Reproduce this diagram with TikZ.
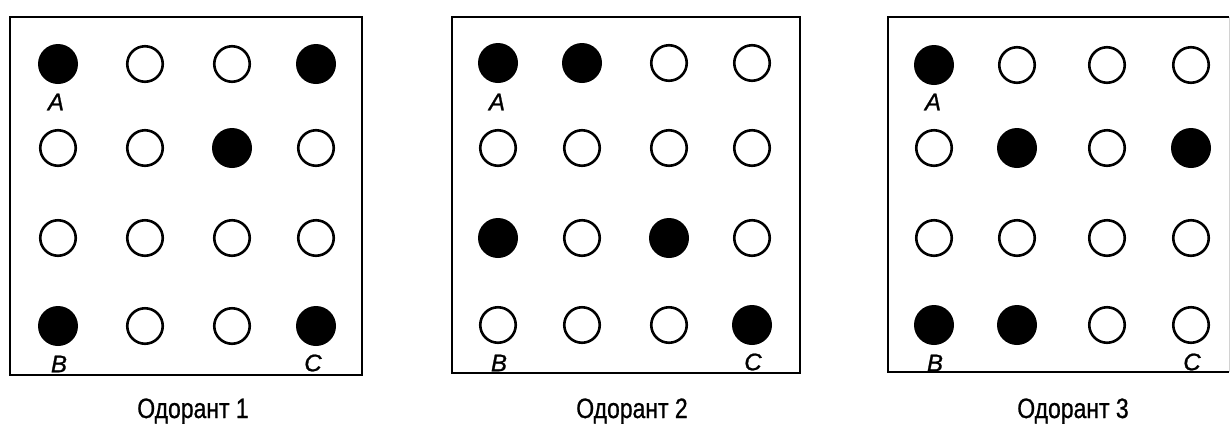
\documentclass[tikz,border=0pt]{standalone}
\usepackage{fontspec}
\setmainfont{Liberation Sans}
\newfontfamily\capfont[FakeStretch=0.82,FakeBold=0.8]{Liberation Sans}
\newfontfamily\labfont[FakeBold=1]{Liberation Sans}
\begin{document}
\begin{tikzpicture}[x=1pt,y=-1pt,
  doto/.style={circle,draw=black,line width=2.6pt,minimum size=35.5pt,inner sep=0pt},
  dotf/.style={circle,fill=black,minimum size=40pt,inner sep=0pt},
  frame/.style={line width=2.8pt,line join=miter},
  lab/.style={font=\labfont\fontsize{24}{24}\selectfont\itshape,inner sep=0pt},
  captxt/.style={font=\capfont\fontsize{28}{28}\selectfont,inner sep=0pt,anchor=base}]
\useasboundingbox (0,0) rectangle (1232,424);
\fill[white] (0,0) rectangle (1232,424);
\newcommand\drawpanel[3]{%
  \foreach \r/\y/\row in {#3} {
    \foreach \s [count=\c] in \row {
      \pgfmathsetmacro\xx{{#2}[\c-1]}
      \node[dot\s] (#1r\r c\c) at (\xx,\y) {};
    }
  }%
}
% frames
\draw[frame] (10,17) rectangle (362,375);
\draw[frame] (452,17) rectangle (800,373);
\draw[frame] (1229,17) -- (888,17) -- (888,372) -- (1229,372);
\draw[gray!35,line width=0.8pt] (1229,17) -- (1229,372);
% panel 1
\drawpanel{a}{58,145,232,316}{1/64/{f,o,o,f},2/148/{o,o,f,o},3/238/{o,o,o,o},4/326/{f,o,o,f}}
% panel 2
\drawpanel{b}{498,582,669,752}{1/63/{f,f,o,o},2/148/{o,o,o,o},3/238/{f,o,f,o},4/325/{o,o,o,f}}
% panel 3
\drawpanel{c}{934,1017,1107,1191}{1/65/{f,o,o,o},2/148/{o,f,o,f},3/238/{o,o,o,o},4/325/{f,f,o,o}}
% labels
\node[lab] (aA) at (56,102) {A};
\node[lab] (aB) at (59,364) {B};
\node[lab] (aC) at (313,363) {C};
\node[lab] (bA) at (497,102) {A};
\node[lab] (bB) at (499,363) {B};
\node[lab] (bC) at (753,362) {C};
\node[lab] (cA) at (933,102) {A};
\node[lab] (cB) at (935,363) {B};
\node[lab] (cC) at (1192,362) {C};
% captions
\node[captxt] (capa) at (193,418) {Одорант 1};
\node[captxt] (capb) at (632,418) {Одорант 2};
\node[captxt] (capc) at (1073,418) {Одорант 3};
\end{tikzpicture}
\end{document}
